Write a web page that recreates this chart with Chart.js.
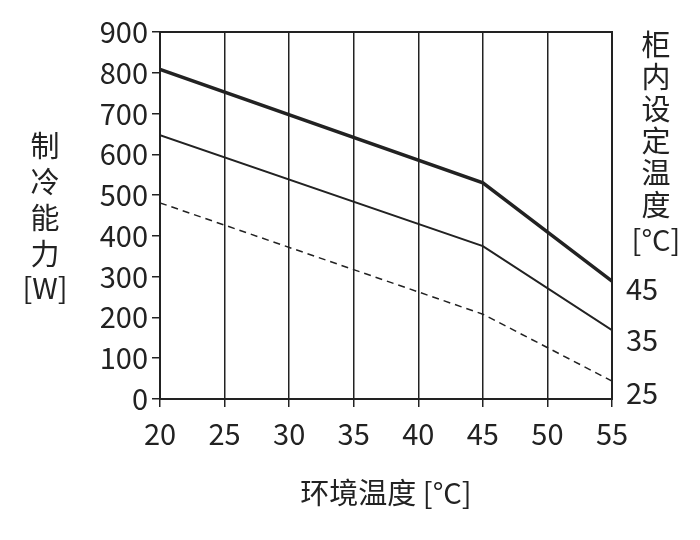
<!DOCTYPE html>
<html><head><meta charset="utf-8">
<script src="https://cdn.jsdelivr.net/npm/chart.js@4/dist/chart.umd.min.js"></script>
<style>body{margin:0;background:#fff}#wrap{width:700px;height:540px}</style>
</head><body><div id="wrap"><canvas id="c"></canvas></div>
<script>
// ambient temperature points and cooling capacity per cabinet setting
var ambientTemps = [20, 45, 55];
var cap45 = [808, 530, 289];
var cap35 = [647, 375, 169];
var cap25 = [481, 208, 44];
var seriesLabels = ['45', '35', '25'];
var xTicks = [20, 25, 30, 35, 40, 45, 50, 55];

var FONT = '"Noto Sans CJK SC", "Noto Sans", sans-serif';
var ink = '#222';

function pts(vals) {
  return vals.map(function(v, i) { return { x: ambientTemps[i], y: v }; });
}

var textPlugin = {
  id: 'texts',
  afterDraw: function(chart) {
    var ctx = chart.ctx, y = chart.scales.y, x = chart.scales.x;
    ctx.save();
    ctx.fillStyle = ink;
    ctx.font = '29px ' + FONT;
    ctx.textAlign = 'left';
    ctx.textBaseline = 'middle';
    // series labels on the right
    chart.data.datasets.forEach(function(ds, i) {
      var last = ds.data[ds.data.length - 1];
      ctx.fillText(seriesLabels[i], x.right + 14, y.getPixelForValue(last.y) + 8 + i * 2);
    });
    ctx.textAlign = 'center';
    // left title
    var left = '制冷能力';
    for (var i = 0; i < left.length; i++) ctx.fillText(left[i], 45, 146 + i * 36);
    ctx.fillText('[W]', 45, 288);
    // right title
    var right = '柜内设定温度';
    for (var j = 0; j < right.length; j++) ctx.fillText(right[j], 656, 45 + j * 32);
    ctx.fillText('[°C]', 656, 240);
    ctx.restore();
  }
};

new Chart(document.getElementById('c').getContext('2d'), {
  type: 'line',
  data: {
    datasets: [
      { data: pts(cap45), borderColor: ink, borderWidth: 3.5, pointRadius: 0 },
      { data: pts(cap35), borderColor: ink, borderWidth: 2, pointRadius: 0 },
      { data: pts(cap25), borderColor: ink, borderWidth: 1.5, borderDash: [7, 5], pointRadius: 0 }
    ]
  },
  options: {
    responsive: true,
    maintainAspectRatio: false,
    animation: false,
    layout: { padding: { top: 32, right: 88, bottom: 26, left: 0 } },
    plugins: { legend: { display: false }, tooltip: { enabled: false } },
    scales: {
      x: {
        type: 'linear', min: 20, max: 55,
        afterBuildTicks: function(s) { s.ticks = xTicks.map(function(v) { return { value: v }; }); },
        grid: { color: ink, lineWidth: 1.5, drawTicks: true, tickLength: 8 },
        border: { color: ink, width: 2 },
        ticks: { color: ink, font: { size: 29, family: FONT }, padding: 10, maxRotation: 0 },
        title: { display: true, text: '环境温度 [°C]', color: ink, font: { size: 29, family: FONT }, padding: { top: 10 } },
        afterFit: function(s) { s.height = 115; }
      },
      y: {
        min: 0, max: 900,
        ticks: { stepSize: 100, color: ink, font: { size: 29, family: FONT }, padding: 4 },
        grid: { display: true, drawOnChartArea: false, color: ink, tickLength: 8, lineWidth: 1.5 },
        border: { color: ink, width: 2 },
        afterFit: function(s) { s.width = 160; }
      }
    }
  },
  plugins: [textPlugin, {
    id: 'frame',
    afterDraw: function(chart) {
      var a = chart.chartArea, ctx = chart.ctx;
      ctx.save(); ctx.strokeStyle = ink; ctx.lineWidth = 2;
      ctx.strokeRect(a.left, a.top, a.right - a.left, a.bottom - a.top);
      ctx.restore();
    }
  }]
});
</script></body></html>
